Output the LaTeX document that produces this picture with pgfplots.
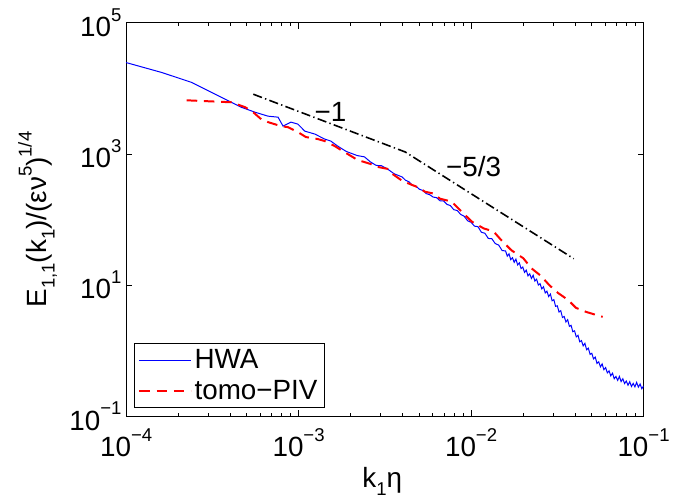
\documentclass[border=0pt]{standalone}
\usepackage{fontspec}
\setmainfont{Liberation Sans}
\usepackage{pgfplots}
\pgfplotsset{compat=1.18}
\newcommand\sps[1]{\raisebox{0.55em}{\fontsize{14}{14}\selectfont #1}}
\newcommand\sbs[1]{\raisebox{-0.28em}{\fontsize{14}{14}\selectfont #1}}
\begin{document}
\begin{tikzpicture}[font=\fontsize{21}{24}\selectfont]
\path (-95.25pt,-61.5pt) rectangle (410.25pt,314.25pt);
\begin{axis}[at={(0,0)}, anchor=south west, scale only axis,
  width=390.75pt, height=297pt,
  xmode=log, ymode=log, xmin=1e-4, xmax=1e-1, ymin=1e-1, ymax=1e5,
  xtick={1e-4,1e-3,1e-2,1e-1},
  xticklabels={10\sps{−4},10\sps{−3},10\sps{−2},10\sps{−1}},
  ytick={1e-1,1e1,1e3,1e5},
  yticklabels={10\sps{−1},10\sps{1},10\sps{3},10\sps{5}},
  yminorticks=false,
  xticklabel style={anchor=base, yshift=-30.5pt},
  tick align=inside, major tick length=4.5pt, minor tick length=2.5pt,
  axis line style={line width=0.75pt},
  every tick/.style={black, line width=0.6pt},
  xlabel={k\sbs{1}η}, ylabel={E\sbs{1,1}(k\sbs{1})/(εν\sps{5})\sps{1/4}},
  every axis x label/.style={at={(axis description cs:0.495,-0.167)}, anchor=center},
  every axis y label/.style={at={(axis description cs:-0.171,0.5)}, rotate=90, anchor=center},
  legend style={at={(0.015,0.02)}, anchor=south west, draw=black, line width=0.75pt,
    fill=white, inner sep=3pt, row sep=3pt, cells={anchor=west}},
  legend image code/.code={\draw[#1] (0pt,0pt) -- (39pt,0pt);},
]
\addplot[blue, line width=0.75pt] coordinates {
(1e-4,24770) (1.611e-4,17460) (2.399e-4,12330) (3.126e-4,8690) (3.767e-4,6808)
(4.656e-4,5152) (5.598e-4,4325) (6.653e-4,3767) (7.603e-4,3639) (8.128e-4,2655)
(9.036e-4,3055) (9.908e-4,2851) (1.086e-3,2228) (1.242e-3,2009) (1.416e-3,1687)
(1.535e-3,1574) (1.683e-3,1321) (1.871e-3,1109) (1.923e-3,1072) (2.188e-3,944)
(2.410e-3,902) (2.606e-3,757) (2.818e-3,668) (3.020e-3,661) (3.266e-3,593) (3.581e-3,498)
(3.981e-3,445.7) (4.169e-3,397) (4.365e-3,376) (4.571e-3,332) (4.786e-3,323)
(5.012e-3,290) (5.248e-3,277) (5.495e-3,248) (5.754e-3,239) (6.026e-3,220)
(6.310e-3,215) (6.607e-3,193) (6.918e-3,193) (7.244e-3,170) (7.586e-3,163)
(7.943e-3,141) (8.318e-3,137) (8.710e-3,119) (9.120e-3,112) (9.550e-3,95.5)
(0.01,90.6) (0.01047,79.1) (0.01096,77.8) (0.01148,63.8) (0.01202,61.7)
(0.01259,51.3) (0.01318,51.1) (0.01380,43.0) (0.01445,40.7) (0.01514,33.6)
(0.01585,33.1) (0.01622,27.6) (0.01660,29.9) (0.01698,24.4) (0.01738,26.1)
(0.01778,22.2) (0.01820,24.9) (0.01862,20.3) (0.01905,21.8) (0.01950,17.8)
(0.01995,18.8) (0.02042,15.6) (0.02089,16.9) (0.02138,13.8) (0.02188,14.8)
(0.02239,12.6) (0.02291,14.1) (0.02344,11.5) (0.02399,12.3) (0.02455,10.0)
(0.02512,10.5) (0.02570,8.73) (0.02630,9.42) (0.02692,7.59) (0.02754,8.05)
(0.02818,6.67) (0.02884,7.28) (0.02951,5.75) (0.03020,5.98) (0.03090,4.73)
(0.03162,4.82) (0.03236,3.88) (0.03311,4.06) (0.03388,3.20) (0.03467,3.31)
(0.03548,2.73) (0.03631,2.96) (0.03715,2.34) (0.03802,2.43) (0.03890,1.94)
(0.03981,2.00) (0.04074,1.62) (0.04169,1.71) (0.04266,1.36) (0.04365,1.42)
(0.04467,1.18) (0.04571,1.29) (0.04677,1.03) (0.04786,1.09) (0.04898,0.875)
(0.05012,0.910) (0.05129,0.745) (0.05248,0.796) (0.05370,0.638) (0.05495,0.675)
(0.05623,0.565) (0.05754,0.625) (0.05888,0.511) (0.06026,0.551) (0.06166,0.457)
(0.06310,0.490) (0.06457,0.412) (0.06607,0.452) (0.06761,0.372) (0.06918,0.403)
(0.07079,0.351) (0.07244,0.403) (0.07413,0.337) (0.07586,0.372) (0.07762,0.314)
(0.07943,0.343) (0.08128,0.296) (0.08318,0.335) (0.08511,0.283) (0.08710,0.316)
(0.08913,0.280) (0.09120,0.327) (0.09333,0.277) (0.09550,0.309) (0.09772,0.262)
(0.1,0.288)
};
\addlegendentry{HWA}
\addplot[red, line width=1.5pt, dash pattern=on 8pt off 5pt] coordinates {
(2.244e-4,6577) (4.074e-4,6138) (4.909e-4,5152) (5.458e-4,4325) (6.067e-4,3388)
(6.653e-4,3055) (7.907e-4,2655) (8.670e-4,2564) (9.908e-4,2153) (1.102e-3,1811)
(1.291e-3,1687) (1.416e-3,1574) (1.618e-3,1321) (1.799e-3,1109) (2.051e-3,902)
(2.193e-3,811) (2.606e-3,705) (2.864e-3,635) (3.266e-3,593) (3.491e-3,498)
(3.981e-3,390) (4.375e-3,351) (4.989e-3,305) (5.408e-3,265) (6.095e-3,248)
(6.592e-3,208) (7.727e-3,187) (9.057e-3,123) (1.007e-2,93.3) (1.183e-2,73.1)
(1.349e-2,65.8) (1.500e-2,48.1) (1.714e-2,33.9) (2.009e-2,25.6) (2.234e-2,18.1)
(2.547e-2,13.7) (2.838e-2,10.0) (3.192e-2,7.57) (3.648e-2,5.93) (4.055e-2,4.49)
(4.634e-2,3.90) (5.284e-2,3.51) (5.794e-2,3.27)
};
\addlegendentry{tomo−PIV}
\addplot[black, line width=1.2pt, dash pattern=on 7pt off 2.5pt on 1pt off 2.5pt, forget plot]
  coordinates {(5.46e-4,8148) (4.15e-3,1072) (0.0394,25.2)};
\node at (axis cs:1.53e-3,4330) {−1};
\node at (axis cs:1.035e-2,635) {−5/3};
\end{axis}
\end{tikzpicture}
\end{document}
